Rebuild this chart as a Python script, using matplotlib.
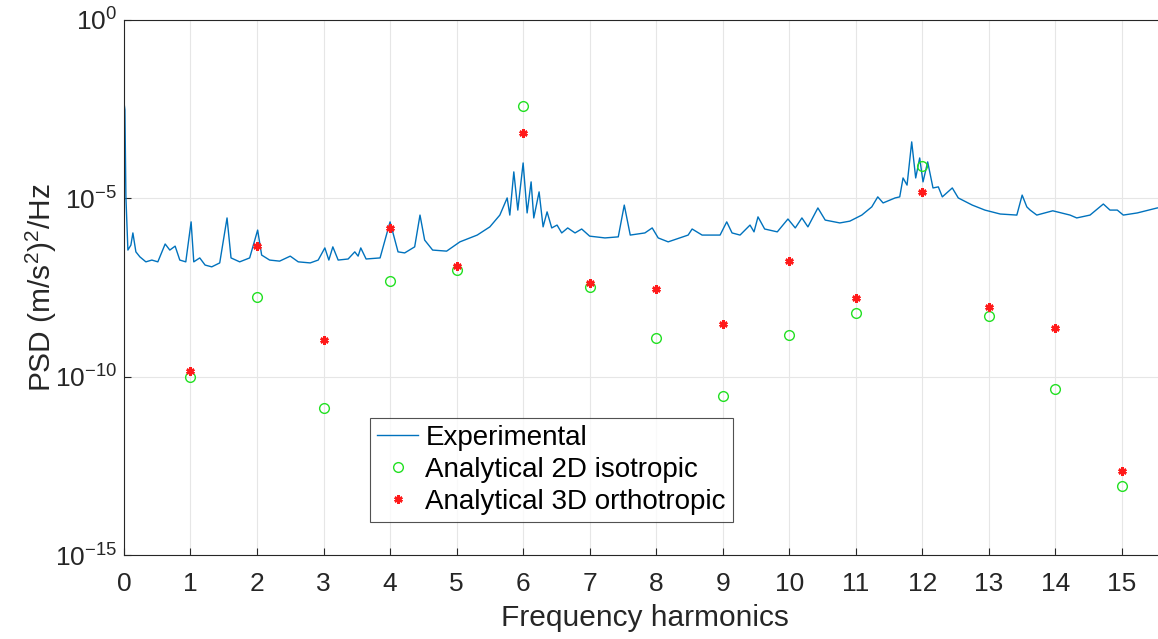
import matplotlib
matplotlib.use("Agg")
import matplotlib.pyplot as plt
import numpy as np

# experimental PSD: frequency (harmonics), log10 of PSD
exp_freq = [0.0, 0.015, 0.03, 0.06, 0.105, 0.135, 0.18, 0.24, 0.33, 0.42, 0.51, 0.62, 0.69,
            0.77, 0.84, 0.93, 1.01, 1.05, 1.14, 1.22, 1.32, 1.44, 1.55, 1.61, 1.74, 1.89,
            2.01, 2.07, 2.19, 2.34, 2.50, 2.62, 2.80, 2.92, 3.02, 3.08, 3.14, 3.22, 3.37,
            3.47, 3.52, 3.56, 3.64, 3.85, 4.00, 4.12, 4.22, 4.37, 4.45, 4.52, 4.64, 4.85,
            5.05, 5.20, 5.31, 5.50, 5.65, 5.76, 5.80, 5.86, 5.92, 6.00, 6.06, 6.12, 6.16,
            6.24, 6.30, 6.36, 6.43, 6.51, 6.58, 6.67, 6.78, 6.88, 7.00, 7.23, 7.43, 7.52,
            7.61, 7.83, 7.94, 8.03, 8.18, 8.48, 8.54, 8.69, 8.96, 9.06, 9.14, 9.26, 9.41,
            9.47, 9.53, 9.63, 9.82, 9.98, 10.09, 10.19, 10.28, 10.43, 10.54, 10.76, 10.91,
            11.09, 11.24, 11.33, 11.41, 11.59, 11.66, 11.71, 11.77, 11.84, 11.90, 11.96,
            12.01, 12.08, 12.16, 12.24, 12.30, 12.45, 12.54, 12.75, 12.94, 13.17, 13.42,
            13.50, 13.57, 13.62, 13.72, 13.96, 14.22, 14.32, 14.52, 14.72, 14.82, 14.93,
            15.02, 15.23, 15.53, 15.66]
exp_log = [-2.3, -2.52, -4.96, -6.45, -6.31, -5.97, -6.50, -6.64, -6.78, -6.73, -6.78, -6.28,
           -6.45, -6.34, -6.73, -6.78, -5.66, -6.78, -6.67, -6.87, -6.92, -6.81, -5.55, -6.67,
           -6.78, -6.67, -5.89, -6.59, -6.73, -6.76, -6.62, -6.78, -6.81, -6.73, -6.39, -6.73,
           -6.36, -6.73, -6.70, -6.50, -6.62, -6.39, -6.70, -6.67, -5.66, -6.50, -6.53, -6.36,
           -5.47, -6.17, -6.45, -6.48, -6.22, -6.11, -6.03, -5.80, -5.47, -4.99, -5.47, -4.26,
           -5.33, -4.01, -5.41, -4.54, -5.55, -4.82, -5.80, -5.38, -5.83, -5.75, -5.97, -5.83,
           -5.97, -5.86, -6.06, -6.11, -6.08, -5.19, -6.03, -5.97, -5.83, -6.11, -6.22, -6.03,
           -5.86, -6.03, -6.03, -5.66, -5.97, -6.03, -5.75, -5.94, -5.52, -5.86, -5.94, -5.58,
           -5.83, -5.55, -5.80, -5.27, -5.61, -5.69, -5.64, -5.47, -5.24, -4.96, -5.13, -4.99,
           -4.96, -4.43, -4.63, -3.42, -4.43, -3.87, -4.54, -3.98, -4.71, -4.68, -4.96, -4.71,
           -4.99, -5.19, -5.33, -5.44, -5.47, -4.91, -5.24, -5.33, -5.47, -5.35, -5.47, -5.55,
           -5.47, -5.16, -5.33, -5.33, -5.47, -5.41, -5.27, -5.25]

harmonics = list(range(1, 16))
# log10 PSD of the analytical models at each harmonic
iso2d_log = [-10.0, -7.77, -10.88, -7.32, -7.01, -2.41, -7.49, -8.92, -10.54, -8.83,
             -8.21, -4.09, -8.30, -10.35, -13.06]
ortho3d_log = [-9.84, -6.34, -8.97, -5.83, -6.90, -3.17, -7.37, -7.54, -8.52, -6.76,
               -7.79, -4.82, -8.05, -8.63, -12.64]

plt.rcParams["font.family"] = ["Liberation Sans", "DejaVu Sans"]
plt.rcParams["mathtext.fontset"] = "custom"
plt.rcParams["mathtext.rm"] = "Liberation Sans"
plt.rcParams["mathtext.it"] = "Liberation Sans"
plt.rcParams["axes.unicode_minus"] = False

fig = plt.figure(figsize=(11.58, 6.39), dpi=100)
ax = fig.add_axes([0.107, 0.131, 0.8998, 0.838])

ax.plot(exp_freq, 10.0 ** np.array(exp_log), color="#0072BD", linewidth=1.0,
        label="Experimental")
ax.plot(harmonics, 10.0 ** np.array(iso2d_log), linestyle="none", marker="o",
        markersize=7, markerfacecolor="none", markeredgecolor="#22e022",
        markeredgewidth=1.0, label="Analytical 2D isotropic")
ax.plot(harmonics, 10.0 ** np.array(ortho3d_log), linestyle="none", marker=(6, 2, 0),
        markersize=6, markeredgecolor="#ff1a1a", markeredgewidth=1.8,
        label="Analytical 3D orthotropic")

ax.set_yscale("log")
ax.set_ylim(1e-15, 1e0)
ax.set_xlim(0, 15.66)
ax.set_xticks(range(0, 16))
ax.set_yticks([1e-15, 1e-10, 1e-5, 1e0])
ax.minorticks_off()
ax.grid(True, color="#e6e6e6", linewidth=0.8)
ax.set_axisbelow(True)

for s in ax.spines.values():
    s.set_color("#262626")
    s.set_linewidth(0.8)
ax.tick_params(direction="in", length=5, width=0.8, colors="#262626", labelsize=19)
ax.tick_params(axis="x", pad=12)
ax.tick_params(axis="y", pad=5)

ax.set_xlabel("Frequency harmonics", fontsize=21.5, color="#262626", labelpad=6)
ax.set_ylabel("PSD (m/s$^2$)$^2$/Hz", fontsize=21.5, color="#262626", labelpad=-3)

leg = ax.legend(loc="lower left", bbox_to_anchor=(0.236, 0.062), fontsize=20,
                frameon=True, fancybox=False, borderpad=0.25, labelspacing=0.22,
                handlelength=1.5, handletextpad=0.25, borderaxespad=0)
leg.get_frame().set_edgecolor("#262626")
leg.get_frame().set_linewidth(0.8)

fig.savefig("out.png", dpi=100)
